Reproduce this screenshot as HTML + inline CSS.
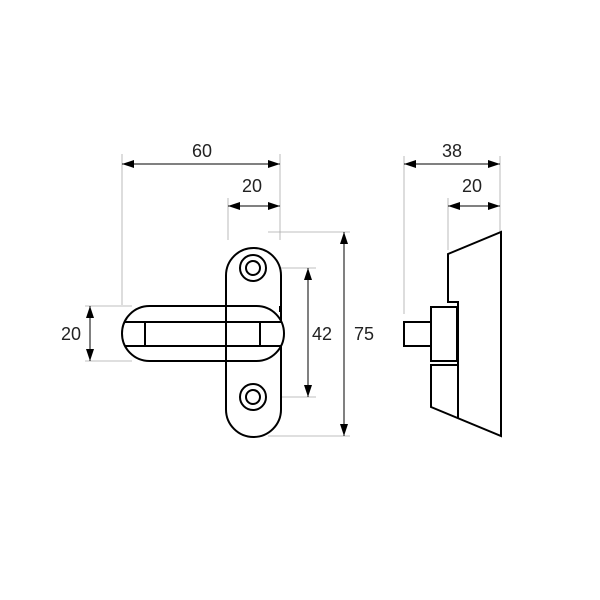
<!DOCTYPE html>
<html><head><style>html,body{margin:0;padding:0;background:#fff}svg{display:block}</style></head>
<body>
<svg width="600" height="600" viewBox="0 0 600 600" xmlns="http://www.w3.org/2000/svg" font-family="Liberation Sans, sans-serif">
<defs>
<marker id="a" viewBox="0 0 12 8" refX="12" refY="4" markerWidth="12" markerHeight="8" orient="auto-start-reverse" markerUnits="userSpaceOnUse">
<path d="M0,0L12,4L0,8z" fill="#000"/></marker>
</defs>
<style>.e{stroke:#aaa;stroke-width:0.8;fill:none}.d{stroke:#000;stroke-width:1;fill:none}.s{stroke:#000;stroke-width:2;fill:#fff}text{font-size:18px;fill:#222;text-anchor:middle}</style>
<g class="e">
<line x1="122" y1="154" x2="122" y2="305"/>
<line x1="280" y1="154" x2="280" y2="240"/>
<line x1="228" y1="198" x2="228" y2="240"/>
<line x1="85" y1="306" x2="132" y2="306"/>
<line x1="85" y1="361" x2="132" y2="361"/>
<line x1="265" y1="268" x2="316" y2="268"/>
<line x1="265" y1="397" x2="316" y2="397"/>
<line x1="268" y1="232" x2="350" y2="232"/>
<line x1="268" y1="436" x2="350" y2="436"/>
<line x1="404" y1="156" x2="404" y2="314"/>
<line x1="500" y1="156" x2="500" y2="232"/>
<line x1="448" y1="198" x2="448" y2="250"/>
</g>
<g class="d">
<line x1="122" y1="164" x2="280" y2="164" marker-start="url(#a)" marker-end="url(#a)"/>
<line x1="228" y1="206" x2="280" y2="206" marker-start="url(#a)" marker-end="url(#a)"/>
<line x1="90" y1="306" x2="90" y2="361" marker-start="url(#a)" marker-end="url(#a)"/>
<line x1="308" y1="268" x2="308" y2="397" marker-start="url(#a)" marker-end="url(#a)"/>
<line x1="344" y1="232" x2="344" y2="436" marker-start="url(#a)" marker-end="url(#a)"/>
<line x1="404" y1="164" x2="500" y2="164" marker-start="url(#a)" marker-end="url(#a)"/>
<line x1="448" y1="206" x2="500" y2="206" marker-start="url(#a)" marker-end="url(#a)"/>
</g>
<text x="202" y="157">60</text>
<text x="252" y="192">20</text>
<text x="71" y="340">20</text>
<text x="322" y="340">42</text>
<text x="364" y="340">75</text>
<text x="452" y="157">38</text>
<text x="472" y="192">20</text>
<rect class="s" x="226" y="248" width="55" height="189" rx="27.5"/>
<circle class="s" cx="253" cy="268" r="13"/><circle class="s" cx="253" cy="268" r="7"/>
<circle class="s" cx="253" cy="397" r="13"/><circle class="s" cx="253" cy="397" r="7"/>
<rect class="s" x="122" y="306" width="162" height="55" rx="27.5"/>
<g stroke="#000" stroke-width="2" fill="none">
<line x1="226" y1="306" x2="226" y2="361"/>
<line x1="280" y1="306" x2="280" y2="312"/>
<path d="M124.5 322H281.5M124.5 346H281.5M145 322V346M260 322V346"/>
<path d="M501 232L501 436L431 407L431 365L458 365L458 302L448 302L448 254Z" fill="#fff"/>
<rect x="431" y="307" width="26" height="54" fill="#fff"/>
<rect x="404" y="322" width="27" height="24" fill="#fff"/>
<line x1="458" y1="365" x2="458" y2="418"/>
</g>
</svg>
</body></html>
